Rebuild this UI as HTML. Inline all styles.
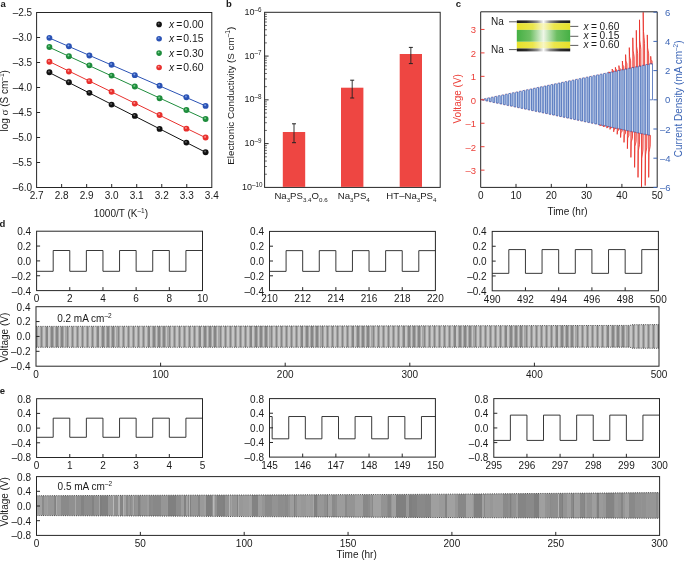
<!DOCTYPE html>
<html><head><meta charset="utf-8"><style>
html,body{margin:0;padding:0;background:#fff;width:685px;height:561px;overflow:hidden}
svg{display:block;will-change:transform}
</style></head><body>
<svg width="685" height="561" viewBox="0 0 685 561" font-family='"Liberation Sans", sans-serif'><defs><radialGradient id="g0" cx="0.42" cy="0.38" r="0.62"><stop offset="0" stop-color="#8fb0f0"/><stop offset="0.4" stop-color="#2a52b4"/><stop offset="1" stop-color="#2a52b4"/></radialGradient><radialGradient id="g1" cx="0.42" cy="0.38" r="0.62"><stop offset="0" stop-color="#8fe0a0"/><stop offset="0.4" stop-color="#1e8c3c"/><stop offset="1" stop-color="#1e8c3c"/></radialGradient><radialGradient id="g2" cx="0.42" cy="0.38" r="0.62"><stop offset="0" stop-color="#ffb0ae"/><stop offset="0.4" stop-color="#e8302d"/><stop offset="1" stop-color="#e8302d"/></radialGradient><radialGradient id="g3" cx="0.42" cy="0.38" r="0.62"><stop offset="0" stop-color="#777"/><stop offset="0.4" stop-color="#111111"/><stop offset="1" stop-color="#111111"/></radialGradient></defs><text x="0.40" y="7.00" font-size="9.5" text-anchor="start" fill="#1a1a1a" font-weight="bold">a</text>
<text x="226.00" y="7.00" font-size="9.5" text-anchor="start" fill="#1a1a1a" font-weight="bold">b</text>
<text x="455.80" y="7.00" font-size="9.5" text-anchor="start" fill="#1a1a1a" font-weight="bold">c</text>
<text x="-0.60" y="226.80" font-size="9.5" text-anchor="start" fill="#1a1a1a" font-weight="bold">d</text>
<text x="-0.30" y="393.60" font-size="9.5" text-anchor="start" fill="#1a1a1a" font-weight="bold">e</text>
<rect x="36.60" y="12.50" width="175.20" height="175.00" fill="none" stroke="#262626" stroke-width="1.0" />
<text x="36.60" y="199.20" font-size="10" text-anchor="middle" fill="#1a1a1a" >2.7</text>
<line x1="61.63" y1="187.50" x2="61.63" y2="184.00" stroke="#262626" stroke-width="1.0" />
<text x="61.63" y="199.20" font-size="10" text-anchor="middle" fill="#1a1a1a" >2.8</text>
<line x1="86.66" y1="187.50" x2="86.66" y2="184.00" stroke="#262626" stroke-width="1.0" />
<text x="86.66" y="199.20" font-size="10" text-anchor="middle" fill="#1a1a1a" >2.9</text>
<line x1="111.69" y1="187.50" x2="111.69" y2="184.00" stroke="#262626" stroke-width="1.0" />
<text x="111.69" y="199.20" font-size="10" text-anchor="middle" fill="#1a1a1a" >3.0</text>
<line x1="136.72" y1="187.50" x2="136.72" y2="184.00" stroke="#262626" stroke-width="1.0" />
<text x="136.72" y="199.20" font-size="10" text-anchor="middle" fill="#1a1a1a" >3.1</text>
<line x1="161.75" y1="187.50" x2="161.75" y2="184.00" stroke="#262626" stroke-width="1.0" />
<text x="161.75" y="199.20" font-size="10" text-anchor="middle" fill="#1a1a1a" >3.2</text>
<line x1="186.78" y1="187.50" x2="186.78" y2="184.00" stroke="#262626" stroke-width="1.0" />
<text x="186.78" y="199.20" font-size="10" text-anchor="middle" fill="#1a1a1a" >3.3</text>
<text x="211.81" y="199.20" font-size="10" text-anchor="middle" fill="#1a1a1a" >3.4</text>
<text x="32.10" y="16.10" font-size="10" text-anchor="end" fill="#1a1a1a" >–2.5</text>
<line x1="36.60" y1="37.50" x2="40.10" y2="37.50" stroke="#262626" stroke-width="1.0" />
<text x="32.10" y="41.10" font-size="10" text-anchor="end" fill="#1a1a1a" >–3.0</text>
<line x1="36.60" y1="62.50" x2="40.10" y2="62.50" stroke="#262626" stroke-width="1.0" />
<text x="32.10" y="66.10" font-size="10" text-anchor="end" fill="#1a1a1a" >–3.5</text>
<line x1="36.60" y1="87.50" x2="40.10" y2="87.50" stroke="#262626" stroke-width="1.0" />
<text x="32.10" y="91.10" font-size="10" text-anchor="end" fill="#1a1a1a" >–4.0</text>
<line x1="36.60" y1="112.50" x2="40.10" y2="112.50" stroke="#262626" stroke-width="1.0" />
<text x="32.10" y="116.10" font-size="10" text-anchor="end" fill="#1a1a1a" >–4.5</text>
<line x1="36.60" y1="137.50" x2="40.10" y2="137.50" stroke="#262626" stroke-width="1.0" />
<text x="32.10" y="141.10" font-size="10" text-anchor="end" fill="#1a1a1a" >–5.0</text>
<line x1="36.60" y1="162.50" x2="40.10" y2="162.50" stroke="#262626" stroke-width="1.0" />
<text x="32.10" y="166.10" font-size="10" text-anchor="end" fill="#1a1a1a" >–5.5</text>
<text x="32.10" y="191.10" font-size="10" text-anchor="end" fill="#1a1a1a" >–6.0</text>
<text x="8.20" y="100.80" font-size="10" text-anchor="middle" fill="#1a1a1a" transform="rotate(-90 8.2 100.8)">log <tspan font-family="Liberation Serif" font-size="11">σ</tspan> (S cm<tspan font-size="6.5" dy="-4">–1</tspan><tspan dy="4">​</tspan>)</text>
<text x="120.90" y="216.80" font-size="10" text-anchor="middle" fill="#1a1a1a" >1000/T (K<tspan font-size="6.5" dy="-4">–1</tspan><tspan dy="4">​</tspan>)</text>
<line x1="49.4" y1="38.0" x2="205.6" y2="105.9" stroke="#2a52b4" stroke-width="1"/>
<line x1="49.4" y1="47.3" x2="205.6" y2="119.2" stroke="#1e8c3c" stroke-width="1"/>
<line x1="49.4" y1="61.6" x2="205.6" y2="137.7" stroke="#e8302d" stroke-width="1"/>
<line x1="49.4" y1="72.6" x2="205.6" y2="152.3" stroke="#111111" stroke-width="1"/>
<circle cx="49.40" cy="37.86" r="2.95" fill="url(#g0)"/>
<circle cx="68.90" cy="46.20" r="2.95" fill="url(#g0)"/>
<circle cx="89.40" cy="55.51" r="2.95" fill="url(#g0)"/>
<circle cx="111.60" cy="64.70" r="2.95" fill="url(#g0)"/>
<circle cx="134.80" cy="75.15" r="2.95" fill="url(#g0)"/>
<circle cx="159.60" cy="85.80" r="2.95" fill="url(#g0)"/>
<circle cx="186.40" cy="97.20" r="2.95" fill="url(#g0)"/>
<circle cx="205.60" cy="105.91" r="2.95" fill="url(#g0)"/>
<circle cx="49.40" cy="46.93" r="2.95" fill="url(#g1)"/>
<circle cx="68.90" cy="56.22" r="2.95" fill="url(#g1)"/>
<circle cx="89.40" cy="65.37" r="2.95" fill="url(#g1)"/>
<circle cx="111.60" cy="75.60" r="2.95" fill="url(#g1)"/>
<circle cx="134.80" cy="86.55" r="2.95" fill="url(#g1)"/>
<circle cx="159.60" cy="98.29" r="2.95" fill="url(#g1)"/>
<circle cx="186.40" cy="110.06" r="2.95" fill="url(#g1)"/>
<circle cx="205.60" cy="118.98" r="2.95" fill="url(#g1)"/>
<circle cx="49.40" cy="61.70" r="2.95" fill="url(#g2)"/>
<circle cx="68.90" cy="71.46" r="2.95" fill="url(#g2)"/>
<circle cx="89.40" cy="81.15" r="2.95" fill="url(#g2)"/>
<circle cx="111.60" cy="91.82" r="2.95" fill="url(#g2)"/>
<circle cx="134.80" cy="103.59" r="2.95" fill="url(#g2)"/>
<circle cx="159.60" cy="114.93" r="2.95" fill="url(#g2)"/>
<circle cx="186.40" cy="128.63" r="2.95" fill="url(#g2)"/>
<circle cx="205.60" cy="137.53" r="2.95" fill="url(#g2)"/>
<circle cx="49.40" cy="72.32" r="2.95" fill="url(#g3)"/>
<circle cx="68.90" cy="82.24" r="2.95" fill="url(#g3)"/>
<circle cx="89.40" cy="92.86" r="2.95" fill="url(#g3)"/>
<circle cx="111.60" cy="104.59" r="2.95" fill="url(#g3)"/>
<circle cx="134.80" cy="115.92" r="2.95" fill="url(#g3)"/>
<circle cx="159.60" cy="128.89" r="2.95" fill="url(#g3)"/>
<circle cx="186.40" cy="142.61" r="2.95" fill="url(#g3)"/>
<circle cx="205.60" cy="152.20" r="2.95" fill="url(#g3)"/>
<circle cx="159.1" cy="24.40" r="2.8" fill="url(#g3)"/>
<text x="169.00" y="28.10" font-size="10.4" text-anchor="start" fill="#1a1a1a" font-style="italic">x</text>
<text x="176.20" y="28.10" font-size="10.4" text-anchor="start" fill="#1a1a1a" >=</text>
<text x="183.30" y="28.10" font-size="10.4" text-anchor="start" fill="#1a1a1a" >0.00</text>
<circle cx="159.1" cy="38.75" r="2.8" fill="url(#g0)"/>
<text x="169.00" y="42.45" font-size="10.4" text-anchor="start" fill="#1a1a1a" font-style="italic">x</text>
<text x="176.20" y="42.45" font-size="10.4" text-anchor="start" fill="#1a1a1a" >=</text>
<text x="183.30" y="42.45" font-size="10.4" text-anchor="start" fill="#1a1a1a" >0.15</text>
<circle cx="159.1" cy="53.10" r="2.8" fill="url(#g1)"/>
<text x="169.00" y="56.80" font-size="10.4" text-anchor="start" fill="#1a1a1a" font-style="italic">x</text>
<text x="176.20" y="56.80" font-size="10.4" text-anchor="start" fill="#1a1a1a" >=</text>
<text x="183.30" y="56.80" font-size="10.4" text-anchor="start" fill="#1a1a1a" >0.30</text>
<circle cx="159.1" cy="67.45" r="2.8" fill="url(#g2)"/>
<text x="169.00" y="71.15" font-size="10.4" text-anchor="start" fill="#1a1a1a" font-style="italic">x</text>
<text x="176.20" y="71.15" font-size="10.4" text-anchor="start" fill="#1a1a1a" >=</text>
<text x="183.30" y="71.15" font-size="10.4" text-anchor="start" fill="#1a1a1a" >0.60</text>
<rect x="264.60" y="12.30" width="175.60" height="175.10" fill="none" stroke="#262626" stroke-width="1.0" />
<text x="254.60" y="14.90" font-size="9" text-anchor="end" fill="#1a1a1a" >10</text>
<text x="254.60" y="11.70" font-size="6.3" text-anchor="start" fill="#1a1a1a" >–6</text>
<line x1="264.60" y1="42.90" x2="266.90" y2="42.90" stroke="#262626" stroke-width="0.7" />
<line x1="264.60" y1="35.19" x2="266.90" y2="35.19" stroke="#262626" stroke-width="0.7" />
<line x1="264.60" y1="29.72" x2="266.90" y2="29.72" stroke="#262626" stroke-width="0.7" />
<line x1="264.60" y1="25.48" x2="266.90" y2="25.48" stroke="#262626" stroke-width="0.7" />
<line x1="264.60" y1="22.01" x2="266.90" y2="22.01" stroke="#262626" stroke-width="0.7" />
<line x1="264.60" y1="19.08" x2="266.90" y2="19.08" stroke="#262626" stroke-width="0.7" />
<line x1="264.60" y1="16.54" x2="266.90" y2="16.54" stroke="#262626" stroke-width="0.7" />
<line x1="264.60" y1="14.30" x2="266.90" y2="14.30" stroke="#262626" stroke-width="0.7" />
<line x1="264.60" y1="56.08" x2="268.60" y2="56.08" stroke="#262626" stroke-width="1.0" />
<text x="254.60" y="58.68" font-size="9" text-anchor="end" fill="#1a1a1a" >10</text>
<text x="254.60" y="55.48" font-size="6.3" text-anchor="start" fill="#1a1a1a" >–7</text>
<line x1="264.60" y1="86.67" x2="266.90" y2="86.67" stroke="#262626" stroke-width="0.7" />
<line x1="264.60" y1="78.96" x2="266.90" y2="78.96" stroke="#262626" stroke-width="0.7" />
<line x1="264.60" y1="73.49" x2="266.90" y2="73.49" stroke="#262626" stroke-width="0.7" />
<line x1="264.60" y1="69.25" x2="266.90" y2="69.25" stroke="#262626" stroke-width="0.7" />
<line x1="264.60" y1="65.79" x2="266.90" y2="65.79" stroke="#262626" stroke-width="0.7" />
<line x1="264.60" y1="62.86" x2="266.90" y2="62.86" stroke="#262626" stroke-width="0.7" />
<line x1="264.60" y1="60.32" x2="266.90" y2="60.32" stroke="#262626" stroke-width="0.7" />
<line x1="264.60" y1="58.08" x2="266.90" y2="58.08" stroke="#262626" stroke-width="0.7" />
<line x1="264.60" y1="99.85" x2="268.60" y2="99.85" stroke="#262626" stroke-width="1.0" />
<text x="254.60" y="102.45" font-size="9" text-anchor="end" fill="#1a1a1a" >10</text>
<text x="254.60" y="99.25" font-size="6.3" text-anchor="start" fill="#1a1a1a" >–8</text>
<line x1="264.60" y1="130.45" x2="266.90" y2="130.45" stroke="#262626" stroke-width="0.7" />
<line x1="264.60" y1="122.74" x2="266.90" y2="122.74" stroke="#262626" stroke-width="0.7" />
<line x1="264.60" y1="117.27" x2="266.90" y2="117.27" stroke="#262626" stroke-width="0.7" />
<line x1="264.60" y1="113.03" x2="266.90" y2="113.03" stroke="#262626" stroke-width="0.7" />
<line x1="264.60" y1="109.56" x2="266.90" y2="109.56" stroke="#262626" stroke-width="0.7" />
<line x1="264.60" y1="106.63" x2="266.90" y2="106.63" stroke="#262626" stroke-width="0.7" />
<line x1="264.60" y1="104.09" x2="266.90" y2="104.09" stroke="#262626" stroke-width="0.7" />
<line x1="264.60" y1="101.85" x2="266.90" y2="101.85" stroke="#262626" stroke-width="0.7" />
<line x1="264.60" y1="143.62" x2="268.60" y2="143.62" stroke="#262626" stroke-width="1.0" />
<text x="254.60" y="146.22" font-size="9" text-anchor="end" fill="#1a1a1a" >10</text>
<text x="254.60" y="143.03" font-size="6.3" text-anchor="start" fill="#1a1a1a" >–9</text>
<line x1="264.60" y1="174.22" x2="266.90" y2="174.22" stroke="#262626" stroke-width="0.7" />
<line x1="264.60" y1="166.51" x2="266.90" y2="166.51" stroke="#262626" stroke-width="0.7" />
<line x1="264.60" y1="161.04" x2="266.90" y2="161.04" stroke="#262626" stroke-width="0.7" />
<line x1="264.60" y1="156.80" x2="266.90" y2="156.80" stroke="#262626" stroke-width="0.7" />
<line x1="264.60" y1="153.34" x2="266.90" y2="153.34" stroke="#262626" stroke-width="0.7" />
<line x1="264.60" y1="150.41" x2="266.90" y2="150.41" stroke="#262626" stroke-width="0.7" />
<line x1="264.60" y1="147.87" x2="266.90" y2="147.87" stroke="#262626" stroke-width="0.7" />
<line x1="264.60" y1="145.63" x2="266.90" y2="145.63" stroke="#262626" stroke-width="0.7" />
<text x="252.00" y="190.00" font-size="9" text-anchor="end" fill="#1a1a1a" >10</text>
<text x="252.00" y="186.80" font-size="6.3" text-anchor="start" fill="#1a1a1a" >–10</text>
<rect x="282.80" y="132.00" width="22.40" height="54.90" fill="#ee4642" stroke="none" stroke-width="0" />
<line x1="294.00" y1="123.80" x2="294.00" y2="142.70" stroke="#222" stroke-width="0.9" />
<line x1="292.00" y1="123.80" x2="296.00" y2="123.80" stroke="#222" stroke-width="1.0" />
<line x1="292.00" y1="142.70" x2="296.00" y2="142.70" stroke="#222" stroke-width="1.0" />
<rect x="341.00" y="87.70" width="22.40" height="99.20" fill="#ee4642" stroke="none" stroke-width="0" />
<line x1="352.20" y1="80.20" x2="352.20" y2="98.00" stroke="#222" stroke-width="0.9" />
<line x1="350.20" y1="80.20" x2="354.20" y2="80.20" stroke="#222" stroke-width="1.0" />
<line x1="350.20" y1="98.00" x2="354.20" y2="98.00" stroke="#222" stroke-width="1.0" />
<rect x="399.70" y="54.00" width="22.30" height="132.90" fill="#ee4642" stroke="none" stroke-width="0" />
<line x1="410.85" y1="47.40" x2="410.85" y2="63.60" stroke="#222" stroke-width="0.9" />
<line x1="408.85" y1="47.40" x2="412.85" y2="47.40" stroke="#222" stroke-width="1.0" />
<line x1="408.85" y1="63.60" x2="412.85" y2="63.60" stroke="#222" stroke-width="1.0" />
<text x="233.60" y="95.80" font-size="9.8" text-anchor="middle" fill="#1a1a1a" transform="rotate(-90 233.6 95.8)">Electronic Conductivity (S cm<tspan font-size="6.5" dy="-4">–1</tspan><tspan dy="4">​</tspan>)</text>
<text x="301.00" y="199.20" font-size="9.6" text-anchor="middle" fill="#1a1a1a" >Na<tspan font-size="6.2" dy="2.8">3</tspan><tspan dy="-2.8">PS</tspan><tspan font-size="6.2" dy="2.8">3.4</tspan><tspan dy="-2.8">O</tspan><tspan font-size="6.2" dy="2.8">0.6</tspan></text>
<text x="353.80" y="199.20" font-size="9.6" text-anchor="middle" fill="#1a1a1a" >Na<tspan font-size="6.2" dy="2.8">3</tspan><tspan dy="-2.8">PS</tspan><tspan font-size="6.2" dy="2.8">4</tspan></text>
<text x="411.40" y="199.20" font-size="9.6" text-anchor="middle" fill="#1a1a1a" >HT–Na<tspan font-size="6.2" dy="2.8">3</tspan><tspan dy="-2.8">PS</tspan><tspan font-size="6.2" dy="2.8">4</tspan></text>
<path d="M482.32,99.43H484.21V100.17H482.32ZM485.83,98.69H487.72V100.91H485.83ZM489.34,97.95H491.24V101.65H489.34ZM492.85,97.20H494.75V102.40H492.85ZM496.37,96.46H498.26V103.14H496.37ZM499.88,95.72H501.77V103.88H499.88ZM503.39,94.98H505.29V104.62H503.39ZM506.90,94.24H508.80V105.36H506.90ZM510.41,93.50H512.31V106.10H510.41ZM513.93,92.75H515.82V106.85H513.93ZM517.44,92.01H519.34V107.59H517.44ZM520.95,91.27H522.85V108.33H520.95ZM524.46,90.53H526.36V109.07H524.46ZM527.98,89.79H529.87V109.81H527.98ZM531.49,89.05H533.39V110.55H531.49ZM535.00,88.30H536.90V111.30H535.00ZM538.51,87.56H540.41V112.04H538.51ZM542.03,86.82H543.92V112.78H542.03ZM545.54,86.08H547.43V113.52H545.54ZM549.05,85.34H550.95V114.26H549.05ZM552.56,84.60H554.46V115.00H552.56ZM556.08,83.85H557.97V115.75H556.08ZM559.59,83.11H561.48V116.49H559.59ZM563.10,82.37H565.00V117.23H563.10ZM566.61,81.63H568.51V117.97H566.61ZM570.12,80.89H572.02V118.71H570.12ZM573.64,80.15H575.53V119.45H573.64ZM577.15,79.40H579.05V120.20H577.15ZM580.66,78.66H582.56V120.94H580.66ZM584.17,77.92H586.07V121.68H584.17ZM587.69,77.18H589.58V122.42H587.69ZM591.20,76.44H593.10V123.16H591.20ZM594.71,75.70H596.61V123.90H594.71ZM598.22,74.95H600.12V124.65H598.22ZM601.74,74.21H603.63V125.39H601.74ZM605.25,73.47H607.14V126.13H605.25ZM608.76,72.73H610.66V126.87H608.76ZM612.27,71.99H614.17V127.61H612.27ZM615.78,71.25H617.68V128.35H615.78ZM619.30,70.50H621.19V129.10H619.30ZM622.81,69.76H624.71V129.84H622.81ZM626.32,69.02H628.22V130.58H626.32ZM629.83,68.28H631.73V131.32H629.83ZM633.35,67.54H635.24V132.06H633.35ZM636.86,66.80H638.76V132.80H636.86ZM640.37,66.05H642.27V133.55H640.37ZM643.88,65.31H645.78V134.29H643.88ZM647.40,64.57H649.29V135.03H647.40Z" fill="#abc1e5" stroke="none"/>
<path d="M608.67,72.61L608.67,72.00L608.97,72.27L609.57,72.33L610.02,72.39L610.12,72.61ZM612.20,71.87L612.20,69.00L612.50,70.26L613.10,70.55L613.55,70.84L613.65,71.87ZM615.40,71.20L615.40,67.30L615.70,69.02L616.30,69.41L616.75,69.80L616.85,71.20ZM618.90,70.46L618.90,65.60L619.20,67.74L619.80,68.23L620.25,68.71L620.35,70.46ZM622.40,69.73L622.40,61.00L622.70,64.84L623.30,65.71L623.75,66.59L623.85,69.73ZM625.60,69.06L625.60,54.60L625.90,60.96L626.50,62.41L626.95,63.85L627.05,69.06ZM629.30,68.28L629.30,47.60L629.60,56.70L630.20,58.77L630.65,60.83L630.75,68.28ZM632.80,67.54L632.80,37.80L633.10,50.89L633.70,53.86L634.15,56.84L634.25,67.54ZM636.30,66.81L636.30,30.30L636.60,46.36L637.20,50.01L637.65,53.66L637.75,66.81ZM639.50,66.13L639.50,19.80L639.80,40.19L640.40,44.82L640.85,49.45L640.95,66.13ZM643.20,65.36L643.20,12.30L643.50,31.56L644.10,37.59L644.55,43.63L644.65,65.36ZM647.30,64.50L647.30,34.90L647.60,47.92L648.20,50.88L648.65,53.84L648.75,64.50ZM650.70,63.78L650.70,56.30L651.00,59.59L651.60,60.34L652.05,61.09L652.15,63.78ZM599.84,125.13L599.84,125.50L600.14,125.28L600.74,125.25L601.34,125.23L601.54,125.13ZM603.37,125.87L603.37,126.80L603.67,126.24L604.27,126.18L604.87,126.11L605.07,125.87ZM606.90,126.62L606.90,128.10L607.20,127.21L607.80,127.11L608.40,127.00L608.60,126.62ZM610.00,127.27L610.00,129.40L610.30,128.12L610.90,127.97L611.50,127.82L611.70,127.27ZM613.70,128.04L613.70,131.80L614.00,129.55L614.60,129.28L615.20,129.02L615.40,128.04ZM617.20,128.78L617.20,134.30L617.50,130.99L618.10,130.60L618.70,130.21L618.90,128.78ZM620.60,129.49L620.60,137.50L620.90,132.70L621.50,132.14L622.10,131.58L622.30,129.49ZM624.00,130.21L624.00,142.40L624.30,135.09L624.90,134.23L625.50,133.38L625.70,130.21ZM627.40,130.92L627.40,148.70L627.70,138.03L628.30,136.79L628.90,135.54L629.10,130.92ZM630.90,131.66L630.90,157.40L631.20,141.95L631.80,140.15L632.40,138.35L632.60,131.66ZM634.60,132.44L634.60,167.40L634.90,146.42L635.50,143.97L636.10,141.53L636.30,132.44ZM638.00,133.15L638.00,177.40L638.30,150.85L638.90,147.75L639.50,144.65L639.70,133.15ZM641.50,133.89L641.50,186.90L641.80,158.33L642.40,154.05L643.00,149.78L643.20,133.89ZM645.20,134.66L645.20,185.50L645.50,155.00L646.10,151.44L646.70,147.88L646.90,134.66ZM648.70,135.40L648.70,177.40L649.00,152.20L649.60,149.26L650.20,146.32L650.40,135.40Z" fill="#f7a4a0" stroke="#e92c25" stroke-width="0.8" stroke-linejoin="bevel"/>
<path d="M480.70,99.80L480.70,99.43L482.32,99.43L482.32,100.17L484.21,100.17L484.21,98.69L485.83,98.69L485.83,100.91L487.72,100.91L487.72,97.95L489.34,97.95L489.34,101.65L491.24,101.65L491.24,97.20L492.85,97.20L492.85,102.40L494.75,102.40L494.75,96.46L496.37,96.46L496.37,103.14L498.26,103.14L498.26,95.72L499.88,95.72L499.88,103.88L501.77,103.88L501.77,94.98L503.39,94.98L503.39,104.62L505.29,104.62L505.29,94.24L506.90,94.24L506.90,105.36L508.80,105.36L508.80,93.50L510.41,93.50L510.41,106.10L512.31,106.10L512.31,92.75L513.93,92.75L513.93,106.85L515.82,106.85L515.82,92.01L517.44,92.01L517.44,107.59L519.34,107.59L519.34,91.27L520.95,91.27L520.95,108.33L522.85,108.33L522.85,90.53L524.46,90.53L524.46,109.07L526.36,109.07L526.36,89.79L527.98,89.79L527.98,109.81L529.87,109.81L529.87,89.05L531.49,89.05L531.49,110.55L533.39,110.55L533.39,88.30L535.00,88.30L535.00,111.30L536.90,111.30L536.90,87.56L538.51,87.56L538.51,112.04L540.41,112.04L540.41,86.82L542.03,86.82L542.03,112.78L543.92,112.78L543.92,86.08L545.54,86.08L545.54,113.52L547.43,113.52L547.43,85.34L549.05,85.34L549.05,114.26L550.95,114.26L550.95,84.60L552.56,84.60L552.56,115.00L554.46,115.00L554.46,83.85L556.08,83.85L556.08,115.75L557.97,115.75L557.97,83.11L559.59,83.11L559.59,116.49L561.48,116.49L561.48,82.37L563.10,82.37L563.10,117.23L565.00,117.23L565.00,81.63L566.61,81.63L566.61,117.97L568.51,117.97L568.51,80.89L570.12,80.89L570.12,118.71L572.02,118.71L572.02,80.15L573.64,80.15L573.64,119.45L575.53,119.45L575.53,79.40L577.15,79.40L577.15,120.20L579.05,120.20L579.05,78.66L580.66,78.66L580.66,120.94L582.56,120.94L582.56,77.92L584.17,77.92L584.17,121.68L586.07,121.68L586.07,77.18L587.69,77.18L587.69,122.42L589.58,122.42L589.58,76.44L591.20,76.44L591.20,123.16L593.10,123.16L593.10,75.70L594.71,75.70L594.71,123.90L596.61,123.90L596.61,74.95L598.22,74.95L598.22,124.65L600.12,124.65L600.12,74.21L601.74,74.21L601.74,125.39L603.63,125.39L603.63,73.47L605.25,73.47L605.25,126.13L607.14,126.13L607.14,72.73L608.76,72.73L608.76,126.87L610.66,126.87L610.66,71.99L612.27,71.99L612.27,127.61L614.17,127.61L614.17,71.25L615.78,71.25L615.78,128.35L617.68,128.35L617.68,70.50L619.30,70.50L619.30,129.10L621.19,129.10L621.19,69.76L622.81,69.76L622.81,129.84L624.71,129.84L624.71,69.02L626.32,69.02L626.32,130.58L628.22,130.58L628.22,68.28L629.83,68.28L629.83,131.32L631.73,131.32L631.73,67.54L633.35,67.54L633.35,132.06L635.24,132.06L635.24,66.80L636.86,66.80L636.86,132.80L638.76,132.80L638.76,66.05L640.37,66.05L640.37,133.55L642.27,133.55L642.27,65.31L643.88,65.31L643.88,134.29L645.78,134.29L645.78,64.57L647.40,64.57L647.40,135.03L649.29,135.03L649.29,63.83H652.5V99.80H649.79" fill="none" stroke="#2952ab" stroke-width="0.7"/>
<path d="M482.12,99.03h0.8M483.31,100.57h0.8M485.63,98.29h0.8M486.82,101.31h0.8M489.14,97.55h0.8M490.34,102.05h0.8M492.65,96.80h0.8M493.85,102.80h0.8M496.17,96.06h0.8M497.36,103.54h0.8M499.68,95.32h0.8M500.87,104.28h0.8M503.19,94.58h0.8M504.39,105.02h0.8M506.70,93.84h0.8M507.90,105.76h0.8M510.21,93.10h0.8M511.41,106.50h0.8M513.73,92.35h0.8M514.92,107.25h0.8M517.24,91.61h0.8M518.44,107.99h0.8M520.75,90.87h0.8M521.95,108.73h0.8M524.26,90.13h0.8M525.46,109.47h0.8M527.78,89.39h0.8M528.97,110.21h0.8M531.29,88.65h0.8M532.49,110.95h0.8M534.80,87.90h0.8M536.00,111.70h0.8M538.31,87.16h0.8M539.51,112.44h0.8M541.83,86.42h0.8M543.02,113.18h0.8M545.34,85.68h0.8M546.53,113.92h0.8M548.85,84.94h0.8M550.05,114.66h0.8M552.36,84.20h0.8M553.56,115.40h0.8M555.88,83.45h0.8M557.07,116.15h0.8M559.39,82.71h0.8M560.58,116.89h0.8M562.90,81.97h0.8M564.10,117.63h0.8M566.41,81.23h0.8M567.61,118.37h0.8M569.92,80.49h0.8M571.12,119.11h0.8M573.44,79.75h0.8M574.63,119.85h0.8M576.95,79.00h0.8M578.15,120.60h0.8M580.46,78.26h0.8M581.66,121.34h0.8M583.97,77.52h0.8M585.17,122.08h0.8M587.49,76.78h0.8M588.68,122.82h0.8M591.00,76.04h0.8M592.20,123.56h0.8M594.51,75.30h0.8M595.71,124.30h0.8M598.02,74.55h0.8M599.22,125.05h0.8M601.54,73.81h0.8M602.73,125.79h0.8M605.05,73.07h0.8M606.24,126.53h0.8M608.56,72.33h0.8M609.76,127.27h0.8M612.07,71.59h0.8M613.27,128.01h0.8M615.58,70.85h0.8M616.78,128.75h0.8M619.10,70.10h0.8M620.29,129.50h0.8M622.61,69.36h0.8M623.81,130.24h0.8M626.12,68.62h0.8M627.32,130.98h0.8M629.63,67.88h0.8M630.83,131.72h0.8M633.15,67.14h0.8M634.34,132.46h0.8M636.66,66.40h0.8M637.86,133.20h0.8M640.17,65.65h0.8M641.37,133.95h0.8M643.68,64.91h0.8M644.88,134.69h0.8M647.20,64.17h0.8M648.39,135.43h0.8" stroke="#ec3f38" stroke-width="0.7" fill="none" opacity="0.55"/>
<line x1="480.70" y1="11.80" x2="657.20" y2="11.80" stroke="#262626" stroke-width="1.0" />
<line x1="480.70" y1="11.80" x2="480.70" y2="187.40" stroke="#262626" stroke-width="1.0" />
<line x1="480.70" y1="187.40" x2="657.20" y2="187.40" stroke="#262626" stroke-width="1.0" />
<line x1="657.20" y1="11.80" x2="657.20" y2="187.40" stroke="#262626" stroke-width="1.0" />
<line x1="480.70" y1="170.15" x2="484.50" y2="170.15" stroke="#ec3f38" stroke-width="1" />
<text x="476.00" y="173.95" font-size="9.5" text-anchor="end" fill="#ec3f38" >–3</text>
<line x1="480.70" y1="146.70" x2="484.50" y2="146.70" stroke="#ec3f38" stroke-width="1" />
<text x="476.00" y="150.50" font-size="9.5" text-anchor="end" fill="#ec3f38" >–2</text>
<line x1="480.70" y1="123.25" x2="484.50" y2="123.25" stroke="#ec3f38" stroke-width="1" />
<text x="476.00" y="127.05" font-size="9.5" text-anchor="end" fill="#ec3f38" >–1</text>
<line x1="480.70" y1="99.80" x2="484.50" y2="99.80" stroke="#ec3f38" stroke-width="1" />
<text x="476.00" y="103.60" font-size="9.5" text-anchor="end" fill="#ec3f38" >0</text>
<line x1="480.70" y1="76.35" x2="484.50" y2="76.35" stroke="#ec3f38" stroke-width="1" />
<text x="476.00" y="80.15" font-size="9.5" text-anchor="end" fill="#ec3f38" >1</text>
<line x1="480.70" y1="52.90" x2="484.50" y2="52.90" stroke="#ec3f38" stroke-width="1" />
<text x="476.00" y="56.70" font-size="9.5" text-anchor="end" fill="#ec3f38" >2</text>
<line x1="480.70" y1="29.45" x2="484.50" y2="29.45" stroke="#ec3f38" stroke-width="1" />
<text x="476.00" y="33.25" font-size="9.5" text-anchor="end" fill="#ec3f38" >3</text>
<line x1="653.40" y1="187.40" x2="657.20" y2="187.40" stroke="#3d66b6" stroke-width="1" />
<text x="660.00" y="191.00" font-size="9.5" text-anchor="start" fill="#3d66b6" >–6</text>
<line x1="653.40" y1="158.20" x2="657.20" y2="158.20" stroke="#3d66b6" stroke-width="1" />
<text x="660.00" y="161.80" font-size="9.5" text-anchor="start" fill="#3d66b6" >–4</text>
<line x1="653.40" y1="129.00" x2="657.20" y2="129.00" stroke="#3d66b6" stroke-width="1" />
<text x="660.00" y="132.60" font-size="9.5" text-anchor="start" fill="#3d66b6" >–2</text>
<line x1="653.40" y1="99.80" x2="657.20" y2="99.80" stroke="#3d66b6" stroke-width="1" />
<text x="665.00" y="103.40" font-size="9.5" text-anchor="start" fill="#3d66b6" >0</text>
<line x1="653.40" y1="70.60" x2="657.20" y2="70.60" stroke="#3d66b6" stroke-width="1" />
<text x="665.00" y="74.20" font-size="9.5" text-anchor="start" fill="#3d66b6" >2</text>
<line x1="653.40" y1="41.40" x2="657.20" y2="41.40" stroke="#3d66b6" stroke-width="1" />
<text x="665.00" y="45.00" font-size="9.5" text-anchor="start" fill="#3d66b6" >4</text>
<line x1="653.40" y1="12.20" x2="657.20" y2="12.20" stroke="#3d66b6" stroke-width="1" />
<text x="665.00" y="15.80" font-size="9.5" text-anchor="start" fill="#3d66b6" >6</text>
<text x="480.70" y="198.60" font-size="10" text-anchor="middle" fill="#1a1a1a" >0</text>
<line x1="516.00" y1="187.40" x2="516.00" y2="183.90" stroke="#262626" stroke-width="1.0" />
<text x="516.00" y="198.60" font-size="10" text-anchor="middle" fill="#1a1a1a" >10</text>
<line x1="551.30" y1="187.40" x2="551.30" y2="183.90" stroke="#262626" stroke-width="1.0" />
<text x="551.30" y="198.60" font-size="10" text-anchor="middle" fill="#1a1a1a" >20</text>
<line x1="586.60" y1="187.40" x2="586.60" y2="183.90" stroke="#262626" stroke-width="1.0" />
<text x="586.60" y="198.60" font-size="10" text-anchor="middle" fill="#1a1a1a" >30</text>
<line x1="621.90" y1="187.40" x2="621.90" y2="183.90" stroke="#262626" stroke-width="1.0" />
<text x="621.90" y="198.60" font-size="10" text-anchor="middle" fill="#1a1a1a" >40</text>
<text x="657.20" y="198.60" font-size="10" text-anchor="middle" fill="#1a1a1a" >50</text>
<text x="461.20" y="98.80" font-size="10" text-anchor="middle" fill="#ec3f38" transform="rotate(-90 461.2 98.8)">Voltage (V)</text>
<text x="682.30" y="98.80" font-size="10" text-anchor="middle" fill="#3d66b6" transform="rotate(-90 682.3 98.8)">Current Density (mA cm<tspan font-size="6.5" dy="-4">–2</tspan><tspan dy="4">​</tspan>)</text>
<text x="567.50" y="214.50" font-size="10" text-anchor="middle" fill="#1a1a1a" >Time (hr)</text>
<defs>
<linearGradient id="gk" x1="0" x2="1"><stop offset="0" stop-color="#1a1a1a"/><stop offset="0.18" stop-color="#2e2e2e"/><stop offset="0.38" stop-color="#8a8a8a"/><stop offset="0.5" stop-color="#fafafa"/><stop offset="0.62" stop-color="#8a8a8a"/><stop offset="0.82" stop-color="#2e2e2e"/><stop offset="1" stop-color="#1a1a1a"/></linearGradient>
<linearGradient id="gy" x1="0" x2="1"><stop offset="0" stop-color="#e6e02a"/><stop offset="0.3" stop-color="#ebe64c"/><stop offset="0.5" stop-color="#f8f6c4"/><stop offset="0.7" stop-color="#ebe64c"/><stop offset="1" stop-color="#e6e02a"/></linearGradient>
<linearGradient id="gg" x1="0" x2="1"><stop offset="0" stop-color="#45b044"/><stop offset="0.25" stop-color="#6cbe62"/><stop offset="0.5" stop-color="#eef6e6"/><stop offset="0.75" stop-color="#6cbe62"/><stop offset="1" stop-color="#45b044"/></linearGradient>
</defs>
<rect x="516.80" y="20.40" width="53.40" height="2.80" fill="url(#gk)" stroke="none" stroke-width="0" />
<rect x="516.80" y="23.20" width="53.40" height="6.70" fill="url(#gy)" stroke="none" stroke-width="0" />
<rect x="516.80" y="29.90" width="53.40" height="11.90" fill="url(#gg)" stroke="none" stroke-width="0" />
<rect x="516.80" y="41.80" width="53.40" height="6.70" fill="url(#gy)" stroke="none" stroke-width="0" />
<rect x="516.80" y="48.50" width="53.40" height="2.90" fill="url(#gk)" stroke="none" stroke-width="0" />
<line x1="509.00" y1="21.80" x2="516.80" y2="21.80" stroke="#333" stroke-width="0.8" />
<line x1="509.00" y1="49.60" x2="516.80" y2="49.60" stroke="#333" stroke-width="0.8" />
<text x="491.00" y="25.40" font-size="10" text-anchor="start" fill="#1a1a1a" >Na</text>
<text x="491.00" y="53.10" font-size="10" text-anchor="start" fill="#1a1a1a" >Na</text>
<line x1="570.20" y1="26.40" x2="578.30" y2="26.40" stroke="#333" stroke-width="0.8" />
<text x="583.40" y="30.00" font-size="10.2" text-anchor="start" fill="#1a1a1a" font-style="italic">x</text>
<text x="591.00" y="30.00" font-size="10.2" text-anchor="start" fill="#1a1a1a" >=</text>
<text x="599.50" y="30.00" font-size="10.2" text-anchor="start" fill="#1a1a1a" >0.60</text>
<line x1="570.20" y1="36.30" x2="578.30" y2="36.30" stroke="#333" stroke-width="0.8" />
<text x="583.40" y="38.90" font-size="10.2" text-anchor="start" fill="#1a1a1a" font-style="italic">x</text>
<text x="591.00" y="38.90" font-size="10.2" text-anchor="start" fill="#1a1a1a" >=</text>
<text x="599.50" y="38.90" font-size="10.2" text-anchor="start" fill="#1a1a1a" >0.15</text>
<line x1="570.20" y1="45.40" x2="578.30" y2="45.40" stroke="#333" stroke-width="0.8" />
<text x="583.40" y="48.30" font-size="10.2" text-anchor="start" fill="#1a1a1a" font-style="italic">x</text>
<text x="591.00" y="48.30" font-size="10.2" text-anchor="start" fill="#1a1a1a" >=</text>
<text x="599.50" y="48.30" font-size="10.2" text-anchor="start" fill="#1a1a1a" >0.60</text>
<rect x="36.60" y="231.20" width="165.90" height="59.40" fill="none" stroke="#262626" stroke-width="1.0" />
<path d="M36.60,271.30 L53.19,271.30 L53.19,250.50 L69.78,250.50 L69.78,271.30 L86.37,271.30 L86.37,250.50 L102.96,250.50 L102.96,271.30 L119.55,271.30 L119.55,250.50 L136.14,250.50 L136.14,271.30 L152.73,271.30 L152.73,250.50 L169.32,250.50 L169.32,271.30 L185.91,271.30 L185.91,250.50 L202.50,250.50" fill="none" stroke="#222" stroke-width="0.9"/>
<text x="31.10" y="294.50" font-size="10" text-anchor="end" fill="#1a1a1a" >–0.4</text>
<line x1="36.60" y1="275.75" x2="40.10" y2="275.75" stroke="#262626" stroke-width="1.0" />
<text x="31.10" y="279.65" font-size="10" text-anchor="end" fill="#1a1a1a" >–0.2</text>
<line x1="36.60" y1="260.90" x2="40.10" y2="260.90" stroke="#262626" stroke-width="1.0" />
<text x="31.10" y="264.80" font-size="10" text-anchor="end" fill="#1a1a1a" >0.0</text>
<line x1="36.60" y1="246.05" x2="40.10" y2="246.05" stroke="#262626" stroke-width="1.0" />
<text x="31.10" y="249.95" font-size="10" text-anchor="end" fill="#1a1a1a" >0.2</text>
<text x="31.10" y="235.10" font-size="10" text-anchor="end" fill="#1a1a1a" >0.4</text>
<text x="36.60" y="302.40" font-size="10" text-anchor="middle" fill="#1a1a1a" >0</text>
<line x1="69.78" y1="290.60" x2="69.78" y2="287.10" stroke="#262626" stroke-width="1.0" />
<text x="69.78" y="302.40" font-size="10" text-anchor="middle" fill="#1a1a1a" >2</text>
<line x1="102.96" y1="290.60" x2="102.96" y2="287.10" stroke="#262626" stroke-width="1.0" />
<text x="102.96" y="302.40" font-size="10" text-anchor="middle" fill="#1a1a1a" >4</text>
<line x1="136.14" y1="290.60" x2="136.14" y2="287.10" stroke="#262626" stroke-width="1.0" />
<text x="136.14" y="302.40" font-size="10" text-anchor="middle" fill="#1a1a1a" >6</text>
<line x1="169.32" y1="290.60" x2="169.32" y2="287.10" stroke="#262626" stroke-width="1.0" />
<text x="169.32" y="302.40" font-size="10" text-anchor="middle" fill="#1a1a1a" >8</text>
<text x="202.50" y="302.40" font-size="10" text-anchor="middle" fill="#1a1a1a" >10</text>
<rect x="269.50" y="231.40" width="165.90" height="59.20" fill="none" stroke="#262626" stroke-width="1.0" />
<path d="M269.50,271.36 L286.09,271.36 L286.09,250.64 L302.68,250.64 L302.68,271.36 L319.27,271.36 L319.27,250.64 L335.86,250.64 L335.86,271.36 L352.45,271.36 L352.45,250.64 L369.04,250.64 L369.04,271.36 L385.63,271.36 L385.63,250.64 L402.22,250.64 L402.22,271.36 L418.81,271.36 L418.81,250.64 L435.40,250.64" fill="none" stroke="#222" stroke-width="0.9"/>
<text x="264.00" y="294.50" font-size="10" text-anchor="end" fill="#1a1a1a" >–0.4</text>
<line x1="269.50" y1="275.80" x2="273.00" y2="275.80" stroke="#262626" stroke-width="1.0" />
<text x="264.00" y="279.70" font-size="10" text-anchor="end" fill="#1a1a1a" >–0.2</text>
<line x1="269.50" y1="261.00" x2="273.00" y2="261.00" stroke="#262626" stroke-width="1.0" />
<text x="264.00" y="264.90" font-size="10" text-anchor="end" fill="#1a1a1a" >0.0</text>
<line x1="269.50" y1="246.20" x2="273.00" y2="246.20" stroke="#262626" stroke-width="1.0" />
<text x="264.00" y="250.10" font-size="10" text-anchor="end" fill="#1a1a1a" >0.2</text>
<text x="264.00" y="235.30" font-size="10" text-anchor="end" fill="#1a1a1a" >0.4</text>
<text x="269.50" y="302.40" font-size="10" text-anchor="middle" fill="#1a1a1a" >210</text>
<line x1="302.68" y1="290.60" x2="302.68" y2="287.10" stroke="#262626" stroke-width="1.0" />
<text x="302.68" y="302.40" font-size="10" text-anchor="middle" fill="#1a1a1a" >212</text>
<line x1="335.86" y1="290.60" x2="335.86" y2="287.10" stroke="#262626" stroke-width="1.0" />
<text x="335.86" y="302.40" font-size="10" text-anchor="middle" fill="#1a1a1a" >214</text>
<line x1="369.04" y1="290.60" x2="369.04" y2="287.10" stroke="#262626" stroke-width="1.0" />
<text x="369.04" y="302.40" font-size="10" text-anchor="middle" fill="#1a1a1a" >216</text>
<line x1="402.22" y1="290.60" x2="402.22" y2="287.10" stroke="#262626" stroke-width="1.0" />
<text x="402.22" y="302.40" font-size="10" text-anchor="middle" fill="#1a1a1a" >218</text>
<text x="435.40" y="302.40" font-size="10" text-anchor="middle" fill="#1a1a1a" >220</text>
<rect x="492.20" y="231.40" width="166.20" height="59.40" fill="none" stroke="#262626" stroke-width="1.0" />
<path d="M492.20,273.35 L508.82,273.35 L508.82,249.59 L525.44,249.59 L525.44,273.35 L542.06,273.35 L542.06,249.59 L558.68,249.59 L558.68,273.35 L575.30,273.35 L575.30,249.59 L591.92,249.59 L591.92,273.35 L608.54,273.35 L608.54,249.59 L625.16,249.59 L625.16,273.35 L641.78,273.35 L641.78,249.59 L658.40,249.59" fill="none" stroke="#222" stroke-width="0.9"/>
<text x="486.70" y="294.70" font-size="10" text-anchor="end" fill="#1a1a1a" >–0.4</text>
<line x1="492.20" y1="275.95" x2="495.70" y2="275.95" stroke="#262626" stroke-width="1.0" />
<text x="486.70" y="279.85" font-size="10" text-anchor="end" fill="#1a1a1a" >–0.2</text>
<line x1="492.20" y1="261.10" x2="495.70" y2="261.10" stroke="#262626" stroke-width="1.0" />
<text x="486.70" y="265.00" font-size="10" text-anchor="end" fill="#1a1a1a" >0.0</text>
<line x1="492.20" y1="246.25" x2="495.70" y2="246.25" stroke="#262626" stroke-width="1.0" />
<text x="486.70" y="250.15" font-size="10" text-anchor="end" fill="#1a1a1a" >0.2</text>
<text x="486.70" y="235.30" font-size="10" text-anchor="end" fill="#1a1a1a" >0.4</text>
<text x="492.20" y="302.60" font-size="10" text-anchor="middle" fill="#1a1a1a" >490</text>
<line x1="525.44" y1="290.80" x2="525.44" y2="287.30" stroke="#262626" stroke-width="1.0" />
<text x="525.44" y="302.60" font-size="10" text-anchor="middle" fill="#1a1a1a" >492</text>
<line x1="558.68" y1="290.80" x2="558.68" y2="287.30" stroke="#262626" stroke-width="1.0" />
<text x="558.68" y="302.60" font-size="10" text-anchor="middle" fill="#1a1a1a" >494</text>
<line x1="591.92" y1="290.80" x2="591.92" y2="287.30" stroke="#262626" stroke-width="1.0" />
<text x="591.92" y="302.60" font-size="10" text-anchor="middle" fill="#1a1a1a" >496</text>
<line x1="625.16" y1="290.80" x2="625.16" y2="287.30" stroke="#262626" stroke-width="1.0" />
<text x="625.16" y="302.60" font-size="10" text-anchor="middle" fill="#1a1a1a" >498</text>
<text x="658.40" y="302.60" font-size="10" text-anchor="middle" fill="#1a1a1a" >500</text>
<rect x="36.60" y="398.70" width="165.90" height="58.80" fill="none" stroke="#262626" stroke-width="1.0" />
<path d="M36.60,437.29 L53.19,437.29 L53.19,418.18 L69.78,418.18 L69.78,437.29 L86.37,437.29 L86.37,418.18 L102.96,418.18 L102.96,437.29 L119.55,437.29 L119.55,418.18 L136.14,418.18 L136.14,437.29 L152.73,437.29 L152.73,418.18 L169.32,418.18 L169.32,437.29 L185.91,437.29 L185.91,418.18 L202.50,418.18" fill="none" stroke="#222" stroke-width="0.9"/>
<text x="31.10" y="461.40" font-size="10" text-anchor="end" fill="#1a1a1a" >–0.8</text>
<line x1="36.60" y1="442.80" x2="40.10" y2="442.80" stroke="#262626" stroke-width="1.0" />
<text x="31.10" y="446.70" font-size="10" text-anchor="end" fill="#1a1a1a" >–0.4</text>
<line x1="36.60" y1="428.10" x2="40.10" y2="428.10" stroke="#262626" stroke-width="1.0" />
<text x="31.10" y="432.00" font-size="10" text-anchor="end" fill="#1a1a1a" >0.0</text>
<line x1="36.60" y1="413.40" x2="40.10" y2="413.40" stroke="#262626" stroke-width="1.0" />
<text x="31.10" y="417.30" font-size="10" text-anchor="end" fill="#1a1a1a" >0.4</text>
<text x="31.10" y="402.60" font-size="10" text-anchor="end" fill="#1a1a1a" >0.8</text>
<text x="36.60" y="469.30" font-size="10" text-anchor="middle" fill="#1a1a1a" >0</text>
<line x1="69.78" y1="457.50" x2="69.78" y2="454.00" stroke="#262626" stroke-width="1.0" />
<text x="69.78" y="469.30" font-size="10" text-anchor="middle" fill="#1a1a1a" >1</text>
<line x1="102.96" y1="457.50" x2="102.96" y2="454.00" stroke="#262626" stroke-width="1.0" />
<text x="102.96" y="469.30" font-size="10" text-anchor="middle" fill="#1a1a1a" >2</text>
<line x1="136.14" y1="457.50" x2="136.14" y2="454.00" stroke="#262626" stroke-width="1.0" />
<text x="136.14" y="469.30" font-size="10" text-anchor="middle" fill="#1a1a1a" >3</text>
<line x1="169.32" y1="457.50" x2="169.32" y2="454.00" stroke="#262626" stroke-width="1.0" />
<text x="169.32" y="469.30" font-size="10" text-anchor="middle" fill="#1a1a1a" >4</text>
<text x="202.50" y="469.30" font-size="10" text-anchor="middle" fill="#1a1a1a" >5</text>
<rect x="269.50" y="398.60" width="165.90" height="58.50" fill="none" stroke="#262626" stroke-width="1.0" />
<path d="M269.50,416.52 L272.15,416.52 L272.15,438.82 L288.74,438.82 L288.74,416.52 L305.33,416.52 L305.33,438.82 L321.92,438.82 L321.92,416.52 L338.51,416.52 L338.51,438.82 L355.10,438.82 L355.10,416.52 L371.69,416.52 L371.69,438.82 L388.28,438.82 L388.28,416.52 L404.87,416.52 L404.87,438.82 L421.46,438.82 L421.46,416.52 L435.40,416.52" fill="none" stroke="#222" stroke-width="0.9"/>
<text x="264.00" y="461.00" font-size="10" text-anchor="end" fill="#1a1a1a" >–0.8</text>
<line x1="269.50" y1="442.48" x2="273.00" y2="442.48" stroke="#262626" stroke-width="1.0" />
<text x="264.00" y="446.38" font-size="10" text-anchor="end" fill="#1a1a1a" >–0.4</text>
<line x1="269.50" y1="427.85" x2="273.00" y2="427.85" stroke="#262626" stroke-width="1.0" />
<text x="264.00" y="431.75" font-size="10" text-anchor="end" fill="#1a1a1a" >0.0</text>
<line x1="269.50" y1="413.23" x2="273.00" y2="413.23" stroke="#262626" stroke-width="1.0" />
<text x="264.00" y="417.12" font-size="10" text-anchor="end" fill="#1a1a1a" >0.4</text>
<text x="264.00" y="402.50" font-size="10" text-anchor="end" fill="#1a1a1a" >0.8</text>
<text x="269.50" y="468.90" font-size="10" text-anchor="middle" fill="#1a1a1a" >145</text>
<line x1="302.68" y1="457.10" x2="302.68" y2="453.60" stroke="#262626" stroke-width="1.0" />
<text x="302.68" y="468.90" font-size="10" text-anchor="middle" fill="#1a1a1a" >146</text>
<line x1="335.86" y1="457.10" x2="335.86" y2="453.60" stroke="#262626" stroke-width="1.0" />
<text x="335.86" y="468.90" font-size="10" text-anchor="middle" fill="#1a1a1a" >147</text>
<line x1="369.04" y1="457.10" x2="369.04" y2="453.60" stroke="#262626" stroke-width="1.0" />
<text x="369.04" y="468.90" font-size="10" text-anchor="middle" fill="#1a1a1a" >148</text>
<line x1="402.22" y1="457.10" x2="402.22" y2="453.60" stroke="#262626" stroke-width="1.0" />
<text x="402.22" y="468.90" font-size="10" text-anchor="middle" fill="#1a1a1a" >149</text>
<text x="435.40" y="468.90" font-size="10" text-anchor="middle" fill="#1a1a1a" >150</text>
<rect x="493.80" y="398.60" width="165.70" height="58.70" fill="none" stroke="#262626" stroke-width="1.0" />
<path d="M493.80,440.42 L510.37,440.42 L510.37,415.11 L526.94,415.11 L526.94,440.42 L543.51,440.42 L543.51,415.11 L560.08,415.11 L560.08,440.42 L576.65,440.42 L576.65,415.11 L593.22,415.11 L593.22,440.42 L609.79,440.42 L609.79,415.11 L626.36,415.11 L626.36,440.42 L642.93,440.42 L642.93,415.11 L659.50,415.11" fill="none" stroke="#222" stroke-width="0.9"/>
<text x="488.30" y="461.20" font-size="10" text-anchor="end" fill="#1a1a1a" >–0.8</text>
<line x1="493.80" y1="442.62" x2="497.30" y2="442.62" stroke="#262626" stroke-width="1.0" />
<text x="488.30" y="446.52" font-size="10" text-anchor="end" fill="#1a1a1a" >–0.4</text>
<line x1="493.80" y1="427.95" x2="497.30" y2="427.95" stroke="#262626" stroke-width="1.0" />
<text x="488.30" y="431.85" font-size="10" text-anchor="end" fill="#1a1a1a" >0.0</text>
<line x1="493.80" y1="413.28" x2="497.30" y2="413.28" stroke="#262626" stroke-width="1.0" />
<text x="488.30" y="417.18" font-size="10" text-anchor="end" fill="#1a1a1a" >0.4</text>
<text x="488.30" y="402.50" font-size="10" text-anchor="end" fill="#1a1a1a" >0.8</text>
<text x="493.80" y="469.10" font-size="10" text-anchor="middle" fill="#1a1a1a" >295</text>
<line x1="526.94" y1="457.30" x2="526.94" y2="453.80" stroke="#262626" stroke-width="1.0" />
<text x="526.94" y="469.10" font-size="10" text-anchor="middle" fill="#1a1a1a" >296</text>
<line x1="560.08" y1="457.30" x2="560.08" y2="453.80" stroke="#262626" stroke-width="1.0" />
<text x="560.08" y="469.10" font-size="10" text-anchor="middle" fill="#1a1a1a" >297</text>
<line x1="593.22" y1="457.30" x2="593.22" y2="453.80" stroke="#262626" stroke-width="1.0" />
<text x="593.22" y="469.10" font-size="10" text-anchor="middle" fill="#1a1a1a" >298</text>
<line x1="626.36" y1="457.30" x2="626.36" y2="453.80" stroke="#262626" stroke-width="1.0" />
<text x="626.36" y="469.10" font-size="10" text-anchor="middle" fill="#1a1a1a" >299</text>
<text x="659.50" y="469.10" font-size="10" text-anchor="middle" fill="#1a1a1a" >300</text>
<defs><linearGradient id="band1" gradientUnits="userSpaceOnUse" x1="36.0" y1="0" x2="41.1" y2="0" spreadMethod="repeat"><stop offset="0.00000" stop-color="#868686"/><stop offset="0.27451" stop-color="#868686"/><stop offset="0.27451" stop-color="#a4a4a4"/><stop offset="0.45098" stop-color="#a4a4a4"/><stop offset="0.45098" stop-color="#c6c6c6"/><stop offset="0.78431" stop-color="#c6c6c6"/><stop offset="0.78431" stop-color="#a6a6a6"/><stop offset="1.00000" stop-color="#a6a6a6"/></linearGradient></defs>
<polygon points="36.00,326.40 560.00,325.60 630.00,325.40 632.00,324.70 659.00,324.60 659.00,348.30 632.00,348.20 630.00,347.20 36.00,347.30" fill="url(#band1)"/>
<polyline points="36.00,326.40 560.00,325.60 630.00,325.40 632.00,324.70 659.00,324.60" fill="none" stroke="#333" stroke-width="0.9" stroke-dasharray="0.9 1.3"/>
<polyline points="36.00,347.30 630.00,347.20 632.00,348.20 659.00,348.30" fill="none" stroke="#333" stroke-width="0.9" stroke-dasharray="0.9 1.3"/>
<rect x="36.00" y="306.70" width="623.00" height="59.50" fill="none" stroke="#262626" stroke-width="1.0" />
<text x="30.50" y="370.10" font-size="10" text-anchor="end" fill="#1a1a1a" >–0.4</text>
<line x1="36.00" y1="351.32" x2="39.50" y2="351.32" stroke="#262626" stroke-width="1.0" />
<text x="30.50" y="355.22" font-size="10" text-anchor="end" fill="#1a1a1a" >–0.2</text>
<line x1="36.00" y1="336.45" x2="39.50" y2="336.45" stroke="#262626" stroke-width="1.0" />
<text x="30.50" y="340.35" font-size="10" text-anchor="end" fill="#1a1a1a" >0.0</text>
<line x1="36.00" y1="321.57" x2="39.50" y2="321.57" stroke="#262626" stroke-width="1.0" />
<text x="30.50" y="325.47" font-size="10" text-anchor="end" fill="#1a1a1a" >0.2</text>
<text x="30.50" y="310.60" font-size="10" text-anchor="end" fill="#1a1a1a" >0.4</text>
<text x="36.00" y="378.00" font-size="10" text-anchor="middle" fill="#1a1a1a" >0</text>
<line x1="160.60" y1="366.20" x2="160.60" y2="362.70" stroke="#262626" stroke-width="1.0" />
<text x="160.60" y="378.00" font-size="10" text-anchor="middle" fill="#1a1a1a" >100</text>
<line x1="285.20" y1="366.20" x2="285.20" y2="362.70" stroke="#262626" stroke-width="1.0" />
<text x="285.20" y="378.00" font-size="10" text-anchor="middle" fill="#1a1a1a" >200</text>
<line x1="409.80" y1="366.20" x2="409.80" y2="362.70" stroke="#262626" stroke-width="1.0" />
<text x="409.80" y="378.00" font-size="10" text-anchor="middle" fill="#1a1a1a" >300</text>
<line x1="534.40" y1="366.20" x2="534.40" y2="362.70" stroke="#262626" stroke-width="1.0" />
<text x="534.40" y="378.00" font-size="10" text-anchor="middle" fill="#1a1a1a" >400</text>
<text x="659.00" y="378.00" font-size="10" text-anchor="middle" fill="#1a1a1a" >500</text>
<text x="57.20" y="322.00" font-size="10" text-anchor="start" fill="#1a1a1a" >0.2 mA cm<tspan font-size="6.5" dy="-4">–2</tspan><tspan dy="4">​</tspan></text>
<defs><linearGradient id="band2" gradientUnits="userSpaceOnUse" x1="36.5" y1="0" x2="661.30" y2="0"><stop offset="0.00000" stop-color="#a1a1a1"/><stop offset="0.00960" stop-color="#a1a1a1"/><stop offset="0.00960" stop-color="#8a8a8a"/><stop offset="0.01280" stop-color="#8a8a8a"/><stop offset="0.01280" stop-color="#9c9c9c"/><stop offset="0.01601" stop-color="#9c9c9c"/><stop offset="0.01601" stop-color="#aeaeae"/><stop offset="0.01745" stop-color="#aeaeae"/><stop offset="0.01745" stop-color="#a0a0a0"/><stop offset="0.01905" stop-color="#a0a0a0"/><stop offset="0.01905" stop-color="#979797"/><stop offset="0.02865" stop-color="#979797"/><stop offset="0.02865" stop-color="#888888"/><stop offset="0.03025" stop-color="#888888"/><stop offset="0.03025" stop-color="#828282"/><stop offset="0.03185" stop-color="#828282"/><stop offset="0.03185" stop-color="#acacac"/><stop offset="0.03329" stop-color="#acacac"/><stop offset="0.03329" stop-color="#9b9b9b"/><stop offset="0.03969" stop-color="#9b9b9b"/><stop offset="0.03969" stop-color="#8a8a8a"/><stop offset="0.05250" stop-color="#8a8a8a"/><stop offset="0.05250" stop-color="#909090"/><stop offset="0.06210" stop-color="#909090"/><stop offset="0.06210" stop-color="#a7a7a7"/><stop offset="0.06354" stop-color="#a7a7a7"/><stop offset="0.06354" stop-color="#8f8f8f"/><stop offset="0.07154" stop-color="#8f8f8f"/><stop offset="0.07154" stop-color="#838383"/><stop offset="0.07634" stop-color="#838383"/><stop offset="0.07634" stop-color="#8c8c8c"/><stop offset="0.08915" stop-color="#8c8c8c"/><stop offset="0.08915" stop-color="#828282"/><stop offset="0.09155" stop-color="#828282"/><stop offset="0.09155" stop-color="#909090"/><stop offset="0.09955" stop-color="#909090"/><stop offset="0.09955" stop-color="#a5a5a5"/><stop offset="0.10099" stop-color="#a5a5a5"/><stop offset="0.10099" stop-color="#7e7e7e"/><stop offset="0.10499" stop-color="#7e7e7e"/><stop offset="0.10499" stop-color="#818181"/><stop offset="0.11460" stop-color="#818181"/><stop offset="0.11460" stop-color="#979797"/><stop offset="0.12260" stop-color="#979797"/><stop offset="0.12260" stop-color="#b9b9b9"/><stop offset="0.12404" stop-color="#b9b9b9"/><stop offset="0.12404" stop-color="#8f8f8f"/><stop offset="0.13044" stop-color="#8f8f8f"/><stop offset="0.13044" stop-color="#afafaf"/><stop offset="0.13188" stop-color="#afafaf"/><stop offset="0.13188" stop-color="#b2b2b2"/><stop offset="0.13332" stop-color="#b2b2b2"/><stop offset="0.13332" stop-color="#858585"/><stop offset="0.13652" stop-color="#858585"/><stop offset="0.13652" stop-color="#848484"/><stop offset="0.13812" stop-color="#848484"/><stop offset="0.13812" stop-color="#b4b4b4"/><stop offset="0.13956" stop-color="#b4b4b4"/><stop offset="0.13956" stop-color="#a1a1a1"/><stop offset="0.14357" stop-color="#a1a1a1"/><stop offset="0.14357" stop-color="#8a8a8a"/><stop offset="0.14677" stop-color="#8a8a8a"/><stop offset="0.14677" stop-color="#969696"/><stop offset="0.14917" stop-color="#969696"/><stop offset="0.14917" stop-color="#8b8b8b"/><stop offset="0.15077" stop-color="#8b8b8b"/><stop offset="0.15077" stop-color="#919191"/><stop offset="0.15237" stop-color="#919191"/><stop offset="0.15237" stop-color="#979797"/><stop offset="0.15477" stop-color="#979797"/><stop offset="0.15477" stop-color="#a9a9a9"/><stop offset="0.15621" stop-color="#a9a9a9"/><stop offset="0.15621" stop-color="#8e8e8e"/><stop offset="0.15781" stop-color="#8e8e8e"/><stop offset="0.15781" stop-color="#939393"/><stop offset="0.16261" stop-color="#939393"/><stop offset="0.16261" stop-color="#828282"/><stop offset="0.16501" stop-color="#828282"/><stop offset="0.16501" stop-color="#8d8d8d"/><stop offset="0.16661" stop-color="#8d8d8d"/><stop offset="0.16661" stop-color="#959595"/><stop offset="0.17622" stop-color="#959595"/><stop offset="0.17622" stop-color="#9c9c9c"/><stop offset="0.17942" stop-color="#9c9c9c"/><stop offset="0.17942" stop-color="#898989"/><stop offset="0.18262" stop-color="#898989"/><stop offset="0.18262" stop-color="#8c8c8c"/><stop offset="0.18662" stop-color="#8c8c8c"/><stop offset="0.18662" stop-color="#888888"/><stop offset="0.19942" stop-color="#888888"/><stop offset="0.19942" stop-color="#969696"/><stop offset="0.20903" stop-color="#969696"/><stop offset="0.20903" stop-color="#989898"/><stop offset="0.21063" stop-color="#989898"/><stop offset="0.21063" stop-color="#808080"/><stop offset="0.22343" stop-color="#808080"/><stop offset="0.22343" stop-color="#8d8d8d"/><stop offset="0.23143" stop-color="#8d8d8d"/><stop offset="0.23143" stop-color="#9d9d9d"/><stop offset="0.23624" stop-color="#9d9d9d"/><stop offset="0.23624" stop-color="#828282"/><stop offset="0.23944" stop-color="#828282"/><stop offset="0.23944" stop-color="#a1a1a1"/><stop offset="0.24184" stop-color="#a1a1a1"/><stop offset="0.24184" stop-color="#8b8b8b"/><stop offset="0.24344" stop-color="#8b8b8b"/><stop offset="0.24344" stop-color="#b2b2b2"/><stop offset="0.24488" stop-color="#b2b2b2"/><stop offset="0.24488" stop-color="#818181"/><stop offset="0.24648" stop-color="#818181"/><stop offset="0.24648" stop-color="#959595"/><stop offset="0.25928" stop-color="#959595"/><stop offset="0.25928" stop-color="#868686"/><stop offset="0.26168" stop-color="#868686"/><stop offset="0.26168" stop-color="#9a9a9a"/><stop offset="0.26809" stop-color="#9a9a9a"/><stop offset="0.26809" stop-color="#9f9f9f"/><stop offset="0.27129" stop-color="#9f9f9f"/><stop offset="0.27129" stop-color="#7f7f7f"/><stop offset="0.28089" stop-color="#7f7f7f"/><stop offset="0.28089" stop-color="#919191"/><stop offset="0.28249" stop-color="#919191"/><stop offset="0.28249" stop-color="#b9b9b9"/><stop offset="0.28393" stop-color="#b9b9b9"/><stop offset="0.28393" stop-color="#a7a7a7"/><stop offset="0.28537" stop-color="#a7a7a7"/><stop offset="0.28537" stop-color="#929292"/><stop offset="0.28857" stop-color="#929292"/><stop offset="0.28857" stop-color="#828282"/><stop offset="0.29818" stop-color="#828282"/><stop offset="0.29818" stop-color="#808080"/><stop offset="0.30138" stop-color="#808080"/><stop offset="0.30138" stop-color="#939393"/><stop offset="0.30778" stop-color="#939393"/><stop offset="0.30778" stop-color="#b4b4b4"/><stop offset="0.30922" stop-color="#b4b4b4"/><stop offset="0.30922" stop-color="#989898"/><stop offset="0.31082" stop-color="#989898"/><stop offset="0.31082" stop-color="#a2a2a2"/><stop offset="0.31242" stop-color="#a2a2a2"/><stop offset="0.31242" stop-color="#969696"/><stop offset="0.32042" stop-color="#969696"/><stop offset="0.32042" stop-color="#828282"/><stop offset="0.32282" stop-color="#828282"/><stop offset="0.32282" stop-color="#a8a8a8"/><stop offset="0.32426" stop-color="#a8a8a8"/><stop offset="0.32426" stop-color="#989898"/><stop offset="0.33067" stop-color="#989898"/><stop offset="0.33067" stop-color="#9b9b9b"/><stop offset="0.34027" stop-color="#9b9b9b"/><stop offset="0.34027" stop-color="#a0a0a0"/><stop offset="0.34267" stop-color="#a0a0a0"/><stop offset="0.34267" stop-color="#9e9e9e"/><stop offset="0.34427" stop-color="#9e9e9e"/><stop offset="0.34427" stop-color="#838383"/><stop offset="0.35387" stop-color="#838383"/><stop offset="0.35387" stop-color="#a8a8a8"/><stop offset="0.35531" stop-color="#a8a8a8"/><stop offset="0.35531" stop-color="#9d9d9d"/><stop offset="0.36012" stop-color="#9d9d9d"/><stop offset="0.36012" stop-color="#959595"/><stop offset="0.36492" stop-color="#959595"/><stop offset="0.36492" stop-color="#8a8a8a"/><stop offset="0.37772" stop-color="#8a8a8a"/><stop offset="0.37772" stop-color="#939393"/><stop offset="0.38732" stop-color="#939393"/><stop offset="0.38732" stop-color="#8d8d8d"/><stop offset="0.39373" stop-color="#8d8d8d"/><stop offset="0.39373" stop-color="#8e8e8e"/><stop offset="0.39773" stop-color="#8e8e8e"/><stop offset="0.39773" stop-color="#8a8a8a"/><stop offset="0.40173" stop-color="#8a8a8a"/><stop offset="0.40173" stop-color="#929292"/><stop offset="0.40573" stop-color="#929292"/><stop offset="0.40573" stop-color="#9d9d9d"/><stop offset="0.41213" stop-color="#9d9d9d"/><stop offset="0.41213" stop-color="#808080"/><stop offset="0.41453" stop-color="#808080"/><stop offset="0.41453" stop-color="#8f8f8f"/><stop offset="0.41773" stop-color="#8f8f8f"/><stop offset="0.41773" stop-color="#9c9c9c"/><stop offset="0.42254" stop-color="#9c9c9c"/><stop offset="0.42254" stop-color="#989898"/><stop offset="0.43054" stop-color="#989898"/><stop offset="0.43054" stop-color="#9d9d9d"/><stop offset="0.43694" stop-color="#9d9d9d"/><stop offset="0.43694" stop-color="#9a9a9a"/><stop offset="0.44334" stop-color="#9a9a9a"/><stop offset="0.44334" stop-color="#a6a6a6"/><stop offset="0.44478" stop-color="#a6a6a6"/><stop offset="0.44478" stop-color="#808080"/><stop offset="0.44958" stop-color="#808080"/><stop offset="0.44958" stop-color="#919191"/><stop offset="0.45118" stop-color="#919191"/><stop offset="0.45118" stop-color="#979797"/><stop offset="0.46079" stop-color="#979797"/><stop offset="0.46079" stop-color="#8f8f8f"/><stop offset="0.46479" stop-color="#8f8f8f"/><stop offset="0.46479" stop-color="#818181"/><stop offset="0.46719" stop-color="#818181"/><stop offset="0.46719" stop-color="#a0a0a0"/><stop offset="0.47359" stop-color="#a0a0a0"/><stop offset="0.47359" stop-color="#8a8a8a"/><stop offset="0.47759" stop-color="#8a8a8a"/><stop offset="0.47759" stop-color="#8e8e8e"/><stop offset="0.48079" stop-color="#8e8e8e"/><stop offset="0.48079" stop-color="#9c9c9c"/><stop offset="0.49360" stop-color="#9c9c9c"/><stop offset="0.49360" stop-color="#898989"/><stop offset="0.49760" stop-color="#898989"/><stop offset="0.49760" stop-color="#949494"/><stop offset="0.51040" stop-color="#949494"/><stop offset="0.51040" stop-color="#9f9f9f"/><stop offset="0.52321" stop-color="#9f9f9f"/><stop offset="0.52321" stop-color="#888888"/><stop offset="0.53121" stop-color="#888888"/><stop offset="0.53121" stop-color="#8c8c8c"/><stop offset="0.53361" stop-color="#8c8c8c"/><stop offset="0.53361" stop-color="#969696"/><stop offset="0.53681" stop-color="#969696"/><stop offset="0.53681" stop-color="#8a8a8a"/><stop offset="0.53841" stop-color="#8a8a8a"/><stop offset="0.53841" stop-color="#a2a2a2"/><stop offset="0.55122" stop-color="#a2a2a2"/><stop offset="0.55122" stop-color="#939393"/><stop offset="0.56082" stop-color="#939393"/><stop offset="0.56082" stop-color="#8b8b8b"/><stop offset="0.56322" stop-color="#8b8b8b"/><stop offset="0.56322" stop-color="#858585"/><stop offset="0.56722" stop-color="#858585"/><stop offset="0.56722" stop-color="#969696"/><stop offset="0.56962" stop-color="#969696"/><stop offset="0.56962" stop-color="#a0a0a0"/><stop offset="0.57602" stop-color="#a0a0a0"/><stop offset="0.57602" stop-color="#7f7f7f"/><stop offset="0.58243" stop-color="#7f7f7f"/><stop offset="0.58243" stop-color="#808080"/><stop offset="0.59203" stop-color="#808080"/><stop offset="0.59203" stop-color="#989898"/><stop offset="0.59683" stop-color="#989898"/><stop offset="0.59683" stop-color="#7f7f7f"/><stop offset="0.60083" stop-color="#7f7f7f"/><stop offset="0.60083" stop-color="#828282"/><stop offset="0.60883" stop-color="#828282"/><stop offset="0.60883" stop-color="#898989"/><stop offset="0.62164" stop-color="#898989"/><stop offset="0.62164" stop-color="#868686"/><stop offset="0.63124" stop-color="#868686"/><stop offset="0.63124" stop-color="#9f9f9f"/><stop offset="0.64405" stop-color="#9f9f9f"/><stop offset="0.64405" stop-color="#9a9a9a"/><stop offset="0.65365" stop-color="#9a9a9a"/><stop offset="0.65365" stop-color="#838383"/><stop offset="0.65765" stop-color="#838383"/><stop offset="0.65765" stop-color="#a1a1a1"/><stop offset="0.66245" stop-color="#a1a1a1"/><stop offset="0.66245" stop-color="#a1a1a1"/><stop offset="0.66565" stop-color="#a1a1a1"/><stop offset="0.66565" stop-color="#a1a1a1"/><stop offset="0.67045" stop-color="#a1a1a1"/><stop offset="0.67045" stop-color="#969696"/><stop offset="0.67446" stop-color="#969696"/><stop offset="0.67446" stop-color="#878787"/><stop offset="0.68726" stop-color="#878787"/><stop offset="0.68726" stop-color="#a2a2a2"/><stop offset="0.69686" stop-color="#a2a2a2"/><stop offset="0.69686" stop-color="#a0a0a0"/><stop offset="0.69926" stop-color="#a0a0a0"/><stop offset="0.69926" stop-color="#969696"/><stop offset="0.70086" stop-color="#969696"/><stop offset="0.70086" stop-color="#808080"/><stop offset="0.71367" stop-color="#808080"/><stop offset="0.71367" stop-color="#a0a0a0"/><stop offset="0.71607" stop-color="#a0a0a0"/><stop offset="0.71607" stop-color="#888888"/><stop offset="0.71847" stop-color="#888888"/><stop offset="0.71847" stop-color="#9b9b9b"/><stop offset="0.72647" stop-color="#9b9b9b"/><stop offset="0.72647" stop-color="#979797"/><stop offset="0.73127" stop-color="#979797"/><stop offset="0.73127" stop-color="#9d9d9d"/><stop offset="0.73448" stop-color="#9d9d9d"/><stop offset="0.73448" stop-color="#9c9c9c"/><stop offset="0.74728" stop-color="#9c9c9c"/><stop offset="0.74728" stop-color="#8a8a8a"/><stop offset="0.75528" stop-color="#8a8a8a"/><stop offset="0.75528" stop-color="#8e8e8e"/><stop offset="0.75848" stop-color="#8e8e8e"/><stop offset="0.75848" stop-color="#7f7f7f"/><stop offset="0.76008" stop-color="#7f7f7f"/><stop offset="0.76008" stop-color="#8c8c8c"/><stop offset="0.76168" stop-color="#8c8c8c"/><stop offset="0.76168" stop-color="#929292"/><stop offset="0.76809" stop-color="#929292"/><stop offset="0.76809" stop-color="#9d9d9d"/><stop offset="0.77049" stop-color="#9d9d9d"/><stop offset="0.77049" stop-color="#858585"/><stop offset="0.78329" stop-color="#858585"/><stop offset="0.78329" stop-color="#8a8a8a"/><stop offset="0.79609" stop-color="#8a8a8a"/><stop offset="0.79609" stop-color="#7f7f7f"/><stop offset="0.80410" stop-color="#7f7f7f"/><stop offset="0.80410" stop-color="#9f9f9f"/><stop offset="0.80730" stop-color="#9f9f9f"/><stop offset="0.80730" stop-color="#a0a0a0"/><stop offset="0.81130" stop-color="#a0a0a0"/><stop offset="0.81130" stop-color="#a0a0a0"/><stop offset="0.81450" stop-color="#a0a0a0"/><stop offset="0.81450" stop-color="#949494"/><stop offset="0.81770" stop-color="#949494"/><stop offset="0.81770" stop-color="#929292"/><stop offset="0.82170" stop-color="#929292"/><stop offset="0.82170" stop-color="#8a8a8a"/><stop offset="0.82410" stop-color="#8a8a8a"/><stop offset="0.82410" stop-color="#8d8d8d"/><stop offset="0.82730" stop-color="#8d8d8d"/><stop offset="0.82730" stop-color="#8e8e8e"/><stop offset="0.83531" stop-color="#8e8e8e"/><stop offset="0.83531" stop-color="#b2b2b2"/><stop offset="0.83675" stop-color="#b2b2b2"/><stop offset="0.83675" stop-color="#868686"/><stop offset="0.84075" stop-color="#868686"/><stop offset="0.84075" stop-color="#7f7f7f"/><stop offset="0.84315" stop-color="#7f7f7f"/><stop offset="0.84315" stop-color="#949494"/><stop offset="0.84955" stop-color="#949494"/><stop offset="0.84955" stop-color="#9e9e9e"/><stop offset="0.85595" stop-color="#9e9e9e"/><stop offset="0.85595" stop-color="#8a8a8a"/><stop offset="0.85835" stop-color="#8a8a8a"/><stop offset="0.85835" stop-color="#7f7f7f"/><stop offset="0.85996" stop-color="#7f7f7f"/><stop offset="0.85996" stop-color="#9e9e9e"/><stop offset="0.86956" stop-color="#9e9e9e"/><stop offset="0.86956" stop-color="#898989"/><stop offset="0.87196" stop-color="#898989"/><stop offset="0.87196" stop-color="#888888"/><stop offset="0.87676" stop-color="#888888"/><stop offset="0.87676" stop-color="#848484"/><stop offset="0.87836" stop-color="#848484"/><stop offset="0.87836" stop-color="#9b9b9b"/><stop offset="0.88076" stop-color="#9b9b9b"/><stop offset="0.88076" stop-color="#929292"/><stop offset="0.88876" stop-color="#929292"/><stop offset="0.88876" stop-color="#9e9e9e"/><stop offset="0.89517" stop-color="#9e9e9e"/><stop offset="0.89517" stop-color="#959595"/><stop offset="0.89677" stop-color="#959595"/><stop offset="0.89677" stop-color="#808080"/><stop offset="0.90077" stop-color="#808080"/><stop offset="0.90077" stop-color="#9b9b9b"/><stop offset="0.90717" stop-color="#9b9b9b"/><stop offset="0.90717" stop-color="#979797"/><stop offset="0.91117" stop-color="#979797"/><stop offset="0.91117" stop-color="#848484"/><stop offset="0.92398" stop-color="#848484"/><stop offset="0.92398" stop-color="#929292"/><stop offset="0.92638" stop-color="#929292"/><stop offset="0.92638" stop-color="#979797"/><stop offset="0.93038" stop-color="#979797"/><stop offset="0.93038" stop-color="#939393"/><stop offset="0.93518" stop-color="#939393"/><stop offset="0.93518" stop-color="#858585"/><stop offset="0.93838" stop-color="#858585"/><stop offset="0.93838" stop-color="#979797"/><stop offset="0.94158" stop-color="#979797"/><stop offset="0.94158" stop-color="#a0a0a0"/><stop offset="0.94798" stop-color="#a0a0a0"/><stop offset="0.94798" stop-color="#898989"/><stop offset="0.95599" stop-color="#898989"/><stop offset="0.95599" stop-color="#898989"/><stop offset="0.95839" stop-color="#898989"/><stop offset="0.95839" stop-color="#919191"/><stop offset="0.96799" stop-color="#919191"/><stop offset="0.96799" stop-color="#949494"/><stop offset="0.96959" stop-color="#949494"/><stop offset="0.96959" stop-color="#919191"/><stop offset="0.97599" stop-color="#919191"/><stop offset="0.97599" stop-color="#979797"/><stop offset="0.97919" stop-color="#979797"/><stop offset="0.97919" stop-color="#969696"/><stop offset="0.99200" stop-color="#969696"/><stop offset="0.99200" stop-color="#8b8b8b"/><stop offset="0.99440" stop-color="#8b8b8b"/><stop offset="0.99440" stop-color="#a2a2a2"/><stop offset="0.99600" stop-color="#a2a2a2"/><stop offset="0.99600" stop-color="#848484"/><stop offset="1.00000" stop-color="#848484"/></linearGradient></defs>
<polygon points="36.50,495.70 410.00,494.40 659.60,492.60 659.60,518.30 410.00,517.40 36.50,515.50" fill="url(#band2)"/>
<polyline points="36.50,495.70 410.00,494.40 659.60,492.60" fill="none" stroke="#333" stroke-width="0.9" stroke-dasharray="0.9 1.3"/>
<polyline points="36.50,515.50 410.00,517.40 659.60,518.30" fill="none" stroke="#333" stroke-width="0.9" stroke-dasharray="0.9 1.3"/>
<rect x="36.50" y="476.60" width="623.10" height="58.80" fill="none" stroke="#262626" stroke-width="1.0" />
<text x="31.00" y="539.30" font-size="10" text-anchor="end" fill="#1a1a1a" >–0.8</text>
<line x1="36.50" y1="520.70" x2="40.00" y2="520.70" stroke="#262626" stroke-width="1.0" />
<text x="31.00" y="524.60" font-size="10" text-anchor="end" fill="#1a1a1a" >–0.4</text>
<line x1="36.50" y1="506.00" x2="40.00" y2="506.00" stroke="#262626" stroke-width="1.0" />
<text x="31.00" y="509.90" font-size="10" text-anchor="end" fill="#1a1a1a" >0.0</text>
<line x1="36.50" y1="491.30" x2="40.00" y2="491.30" stroke="#262626" stroke-width="1.0" />
<text x="31.00" y="495.20" font-size="10" text-anchor="end" fill="#1a1a1a" >0.4</text>
<text x="31.00" y="480.50" font-size="10" text-anchor="end" fill="#1a1a1a" >0.8</text>
<text x="36.50" y="547.00" font-size="10" text-anchor="middle" fill="#1a1a1a" >0</text>
<line x1="140.35" y1="535.40" x2="140.35" y2="531.90" stroke="#262626" stroke-width="1.0" />
<text x="140.35" y="547.00" font-size="10" text-anchor="middle" fill="#1a1a1a" >50</text>
<line x1="244.20" y1="535.40" x2="244.20" y2="531.90" stroke="#262626" stroke-width="1.0" />
<text x="244.20" y="547.00" font-size="10" text-anchor="middle" fill="#1a1a1a" >100</text>
<line x1="348.05" y1="535.40" x2="348.05" y2="531.90" stroke="#262626" stroke-width="1.0" />
<text x="348.05" y="547.00" font-size="10" text-anchor="middle" fill="#1a1a1a" >150</text>
<line x1="451.90" y1="535.40" x2="451.90" y2="531.90" stroke="#262626" stroke-width="1.0" />
<text x="451.90" y="547.00" font-size="10" text-anchor="middle" fill="#1a1a1a" >200</text>
<line x1="555.75" y1="535.40" x2="555.75" y2="531.90" stroke="#262626" stroke-width="1.0" />
<text x="555.75" y="547.00" font-size="10" text-anchor="middle" fill="#1a1a1a" >250</text>
<text x="659.60" y="547.00" font-size="10" text-anchor="middle" fill="#1a1a1a" >300</text>
<text x="57.60" y="490.00" font-size="10" text-anchor="start" fill="#1a1a1a" >0.5 mA cm<tspan font-size="6.5" dy="-4">–2</tspan><tspan dy="4">​</tspan></text>
<text x="7.80" y="337.50" font-size="10" text-anchor="middle" fill="#1a1a1a" transform="rotate(-90 7.8 337.5)">Voltage (V)</text>
<text x="7.80" y="501.80" font-size="10" text-anchor="middle" fill="#1a1a1a" transform="rotate(-90 7.8 501.8)">Voltage (V)</text>
<text x="356.70" y="558.40" font-size="10" text-anchor="middle" fill="#1a1a1a" >Time (hr)</text></svg>
</body></html>
